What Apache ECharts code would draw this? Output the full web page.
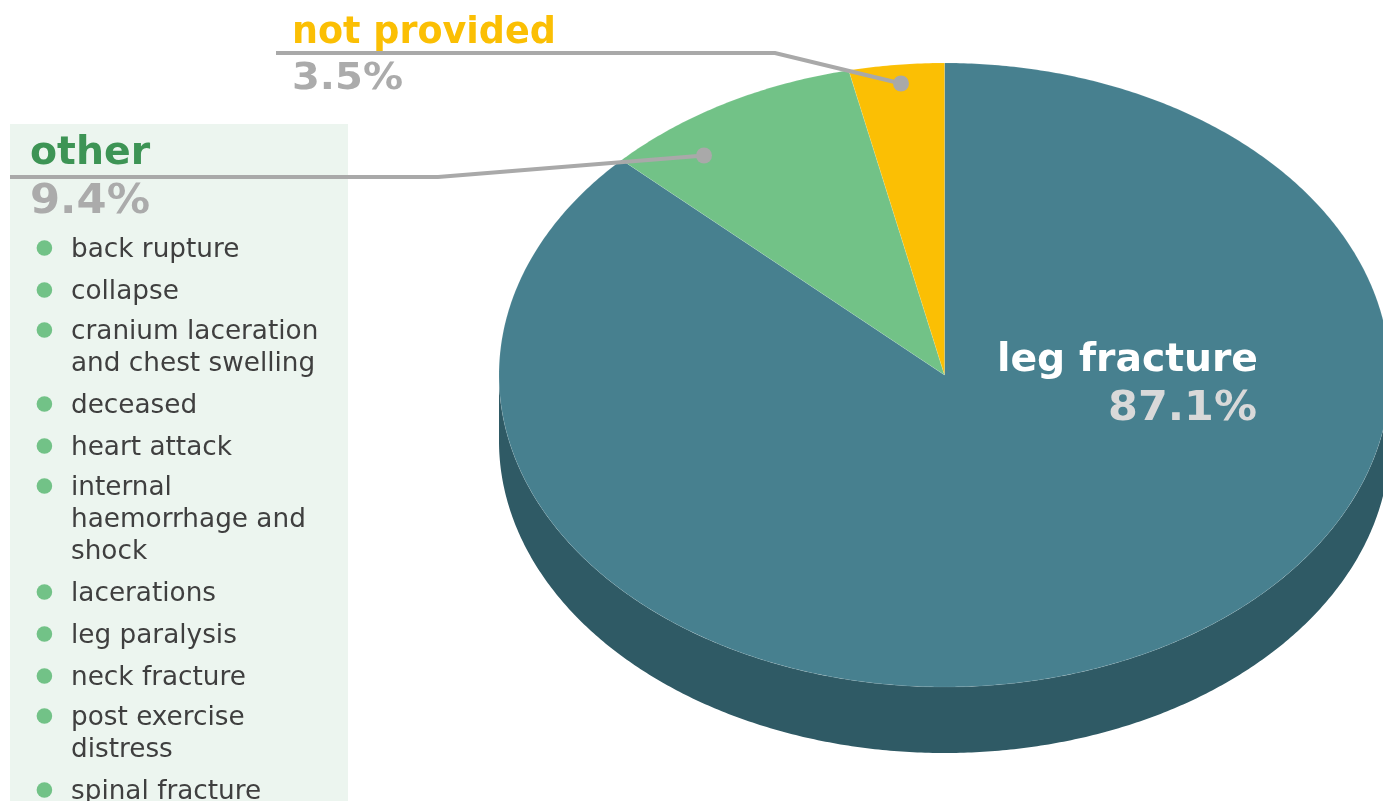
<!DOCTYPE html>
<html><head><meta charset="utf-8">
<style>html,body{margin:0;padding:0;background:#fff;overflow:hidden}#c{width:1383px;height:801px}</style>
<script src="https://cdn.jsdelivr.net/npm/echarts@6/dist/echarts.min.js"></script>
</head><body><div id="c"></div>
<script>
const categories = ['leg fracture', 'other', 'not provided'];
const values = [87.1, 9.45, 3.45];
const percentLabels = ['87.1%', '9.4%', '3.5%'];
const otherItems = [
  ['back rupture'], ['collapse'], ['cranium laceration', 'and chest swelling'],
  ['deceased'], ['heart attack'], ['internal', 'haemorrhage and', 'shock'],
  ['lacerations'], ['leg paralysis'], ['neck fracture'],
  ['post exercise', 'distress'], ['spinal fracture']
];
const topColors = ['#47808F', '#72C287', '#FBBF04'];
const wallColors = ['#2F5A65', '#4F9A63', '#C99A03'];

const FONT = '"DejaVu Sans", Verdana, sans-serif';
const CX = 944.5, CY = 375, RX = 445.5, RY = 312, DEPTH = 66;
const total = values.reduce((a, b) => a + b, 0);
const pt = (deg, dy) => {
  const t = deg * Math.PI / 180;
  return [CX + RX * Math.sin(t), CY - RY * Math.cos(t) + (dy || 0)];
};
const arc = (a, b, dy) => {
  const out = [], n = Math.max(2, Math.ceil(Math.abs(b - a) * 2));
  for (let i = 0; i <= n; i++) out.push(pt(a + (b - a) * i / n, dy));
  return out;
};
const startOf = i => values.slice(0, i).reduce((a, b) => a + b, 0) / total * 360;

function renderSlice(params, api) {
  const i = params.dataIndex;
  const a0 = startOf(i), a1 = a0 + api.value(0) / total * 360;
  const children = [];
  const w0 = Math.max(a0, 90), w1 = Math.min(a1, 270);
  if (w1 > w0) {
    children.push({
      type: 'polygon',
      shape: { points: arc(w0, w1, 0).concat(arc(w1, w0, DEPTH)) },
      style: { fill: wallColors[i] }
    });
  }
  children.push({
    type: 'polygon',
    shape: { points: [[CX, CY]].concat(arc(a0, a1, 0)) },
    style: { fill: topColors[i], stroke: 'rgba(255,255,255,0.14)', lineWidth: 0.7 }
  });
  return { type: 'group', children };
}

const OVER = 100;
const txt = (text, x, y, size, weight, fill, align, sx) => ({
  type: 'text', z: OVER, silent: true,
  originX: x, originY: y, scaleX: sx || 1,
  style: { text, x, y, font: `${weight} ${size}px ${FONT}`, fill, align: align || 'left', verticalAlign: 'middle' }
});
const LINE = '#A9A9A9';
const leader = (points, dot) => [
  { type: 'polyline', z: OVER - 1, silent: true, shape: { points: points.concat([dot]) }, style: { stroke: LINE, lineWidth: 4, fill: null } },
  { type: 'circle', z: OVER - 1, silent: true, shape: { cx: dot[0], cy: dot[1], r: 8 }, style: { fill: LINE } }
];

const elements = [
  { type: 'rect', z: -1, silent: true, shape: { x: 10, y: 124, width: 338, height: 677 }, style: { fill: '#ECF5EF' } },
  ...leader([[276, 53], [775, 53]], [901, 83.5]),
  ...leader([[10, 177], [438, 177]], [704, 155.5]),
  txt(categories[2], 292, 33, 37.5, 'bold', '#FBBF04', 'left', 0.974),
  txt(percentLabels[2], 292, 79.5, 38, 'bold', '#ABABAB', 'left', 1.053),
  txt(categories[1], 30, 154, 39.4, 'bold', '#3D9455'),
  txt(percentLabels[1], 30, 202, 41, 'bold', '#ABABAB', 'left', 1.055),
  txt(categories[0], 1258, 360.5, 39.3, 'bold', '#FFFFFF', 'right'),
  txt(percentLabels[0], 1257, 409, 41, 'bold', '#D9D9D9', 'right', 1.047)
];
let y = 249;
otherItems.forEach((lines, k) => {
  if (k > 0 && lines.length > 1) y -= 2;
  elements.push({ type: 'circle', z: OVER, silent: true, shape: { cx: 44.4, cy: y - 1, r: 7.8 }, style: { fill: '#72C287' } });
  lines.forEach((s, j) => {
    elements.push(txt(s, 71, y + 1 + j * 32, 26.3, 'normal', '#3F3F3F'));
  });
  y += (lines.length - 1) * 32 + 42;
});

const chart = echarts.init(document.getElementById('c'), null, { renderer: 'canvas', width: 1383, height: 801 });
chart.setOption({
  animation: false,
  backgroundColor: '#FFFFFF',
  graphic: { elements },
  series: [{
    type: 'custom',
    coordinateSystem: 'none',
    renderItem: renderSlice,
    data: values.map((v, i) => ({ name: categories[i], value: [v] })),
    silent: true,
    clip: false
  }]
});
</script></body></html>
